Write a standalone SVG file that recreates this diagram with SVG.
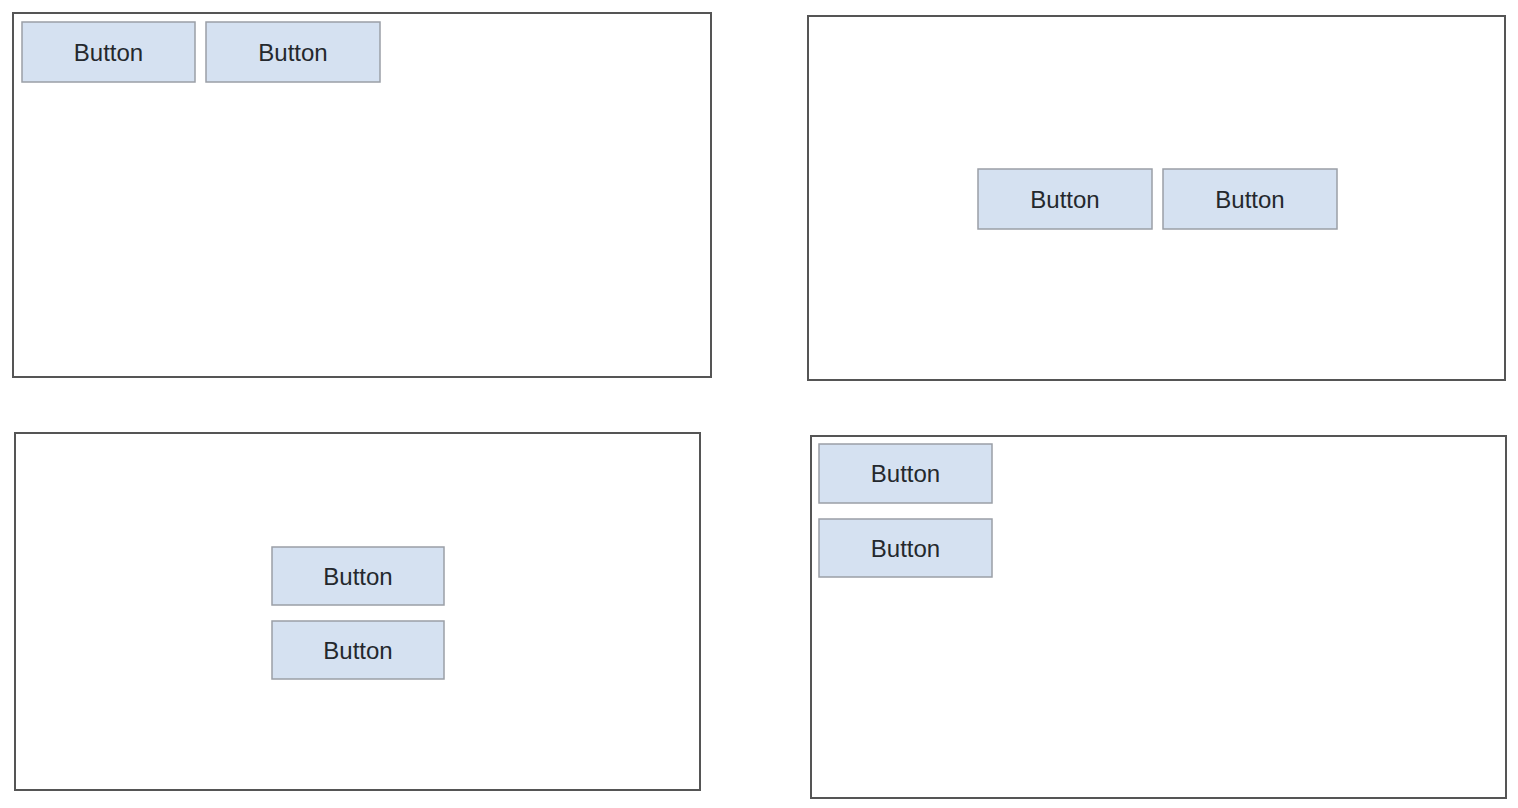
<svg xmlns="http://www.w3.org/2000/svg" width="1518" height="808" viewBox="0 0 1518 808">
<style>
.panel{fill:#fff;stroke:#555;stroke-width:2}
.btn rect{fill:#d5e1f1;stroke:#9a9fa6;stroke-width:1.5}
.btn text{font-family:"Liberation Sans",Arial,sans-serif;font-size:24px;fill:#24282d;text-anchor:middle;dominant-baseline:central}
</style>
<rect width="1518" height="808" fill="#fff"/>
<g id="panel1"><rect class="panel" x="13" y="13" width="698" height="364"/></g>
<g id="panel2"><rect class="panel" x="808" y="16" width="697" height="364"/></g>
<g id="panel3"><rect class="panel" x="15" y="433" width="685" height="357"/></g>
<g id="panel4"><rect class="panel" x="811" y="436" width="695" height="362"/></g>
<g id="p1b1" class="btn"><rect x="22" y="22" width="173" height="60"/><text x="108.5" y="52">Button</text></g>
<g id="p1b2" class="btn"><rect x="206" y="22" width="174" height="60"/><text x="293" y="52">Button</text></g>
<g id="p2b1" class="btn"><rect x="978" y="169" width="174" height="60"/><text x="1065" y="199">Button</text></g>
<g id="p2b2" class="btn"><rect x="1163" y="169" width="174" height="60"/><text x="1250" y="199">Button</text></g>
<g id="p3b1" class="btn"><rect x="272" y="547" width="172" height="58"/><text x="358" y="576">Button</text></g>
<g id="p3b2" class="btn"><rect x="272" y="621" width="172" height="58"/><text x="358" y="650">Button</text></g>
<g id="p4b1" class="btn"><rect x="819" y="444" width="173" height="59"/><text x="905.5" y="473.5">Button</text></g>
<g id="p4b2" class="btn"><rect x="819" y="519" width="173" height="58"/><text x="905.5" y="548">Button</text></g>
<g id="connectors"></g>
</svg>
